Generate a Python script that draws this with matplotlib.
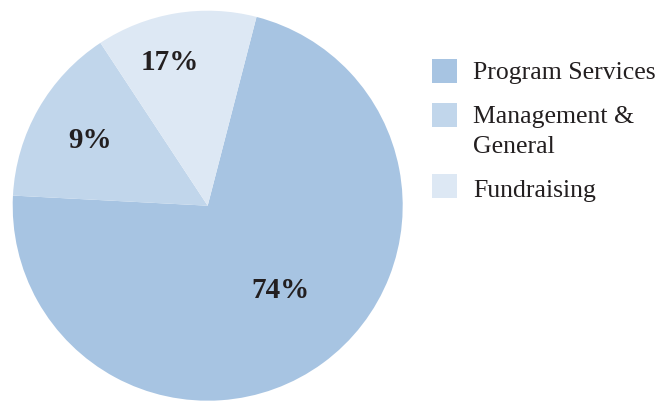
import matplotlib
matplotlib.use("Agg")
import matplotlib.pyplot as plt
from matplotlib.patches import Rectangle
import numpy as np

# slice shares as drawn (clockwise from top-right)
categories = ["Program Services", "Management &\nGeneral", "Fundraising"]
shares = [71.8, 14.9, 13.3]
pct_labels = ["74%", "9%", "17%"]
colors = ["#a7c4e2", "#c1d6eb", "#dde8f4"]

# label placement (fraction of radius, angle in degrees)
label_pos = [(0.57, -49.4), (0.69, 150.8), (0.76, 104.7)]

plt.rcParams['font.family'] = ['Liberation Serif', 'DejaVu Serif']
text_color = "#231f20"
W, H = 660, 401

fig = plt.figure(figsize=(W / 100, H / 100), dpi=100)
ax = fig.add_axes([12.7 / W, (H - 205.7 - 195) / H, 390 / W, 390 / H])

wedges, _ = ax.pie(shares, colors=colors, startangle=75.5, counterclock=False,
                   wedgeprops=dict(linewidth=0))
ax.set_xlim(-1, 1)
ax.set_ylim(-1, 1)
ax.axis('off')

for lab, (r, a) in zip(pct_labels, label_pos):
    t = np.deg2rad(a)
    ax.text(r * np.cos(t), r * np.sin(t), lab, ha='center', va='center',
            fontsize=21, fontweight='bold', color=text_color)

# legend drawn by hand so the swatch lines up with the first text line
swatch_top = [59, 103, 174]   # px from top
baseline = [79, 122.7, 196.7]
line_gap = 30.3
for cat, col, top, base in zip(categories, colors, swatch_top, baseline):
    fig.patches.append(Rectangle((432.3 / W, 1 - (top + 24.4) / H), 24.4 / W, 24.4 / H,
                                 transform=fig.transFigure, facecolor=col,
                                 edgecolor='none'))
    for i, line in enumerate(cat.split("\n")):
        fig.text(473 / W, 1 - (base + i * line_gap) / H, line, ha='left',
                 va='baseline', fontsize=18.5, color=text_color)

fig.savefig("out.png", dpi=100)
